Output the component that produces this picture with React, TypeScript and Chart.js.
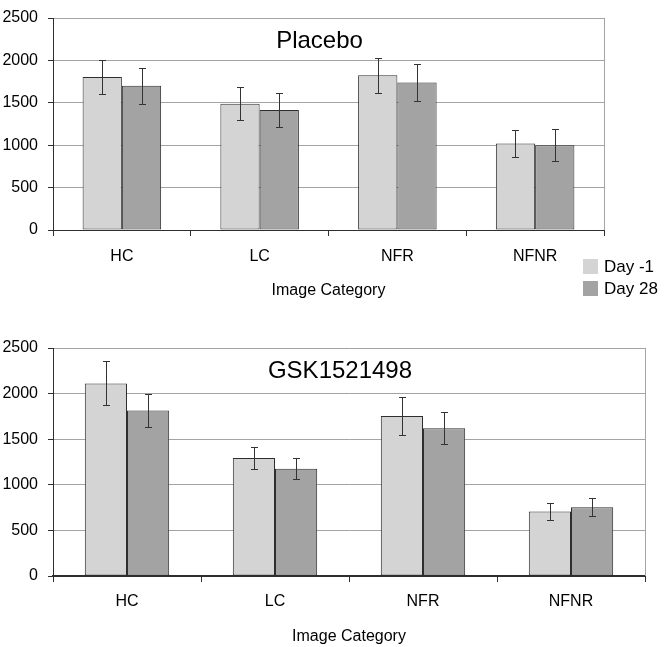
import React, { useEffect, useRef } from "react";
import { Chart, registerables } from "chart.js";

Chart.register(...registerables);

// ---------- data ----------
const categories = ["HC", "LC", "NFR", "NFNR"];
const seriesLabels = ["Day -1", "Day 28"];
const yTickValues = [0, 500, 1000, 1500, 2000, 2500];

const placeboDayMinus1 = [1805, 1490, 1825, 1020];
const placeboDayMinus1Err = [205, 198, 208, 162];
const placeboDay28 = [1700, 1415, 1740, 1000];
const placeboDay28Err = [214, 203, 214, 186];

const gskDayMinus1 = [2112, 1295, 1755, 707];
const gskDayMinus1Err = [241, 121, 204, 98];
const gskDay28 = [1815, 1176, 1620, 753];
const gskDay28Err = [186, 117, 178, 97];

const xAxisTitle = "Image Category";

// ---------- styles ----------
const REGULAR = '"Liberation Sans", Arial, sans-serif';
const LIGHT = "#d4d4d4";
const DARK = "#a3a3a3";
const EDGE = "#2e2e2e";
const GRID = "#a4a4a4";

type PanelProps = {
  title: string;
  values: number[][];
  errors: number[][];
  width: number;
  height: number;
  padTop: number;
  padRight: number;
  axisWidth: number;
  xAxisHeight: number;
  tickPad: number;
  titlePad: number;
  axisLineWidth: number;
  showLegend: boolean;
};

function Panel(p: PanelProps) {
  const ref = useRef<HTMLCanvasElement | null>(null);

  useEffect(() => {
    if (!ref.current) return;
    const overlay = {
      id: "overlay",
      beforeDatasetsDraw(chart: any) {
        const { ctx, chartArea } = chart;
        ctx.save();
        ctx.strokeStyle = GRID;
        ctx.lineWidth = 1;
        ctx.beginPath();
        const xr = Math.round(chartArea.right) + 0.5;
        ctx.moveTo(xr, chartArea.top);
        ctx.lineTo(xr, chartArea.bottom);
        ctx.stroke();
        ctx.restore();
      },
      afterDatasetsDraw(chart: any) {
        const { ctx } = chart;
        const ys = chart.scales.y;
        ctx.save();
        ctx.strokeStyle = "#333";
        ctx.lineWidth = 1;
        chart.data.datasets.forEach((ds: any, d: number) => {
          const meta = chart.getDatasetMeta(d);
          meta.data.forEach((el: any, i: number) => {
            const v = ds.data[i];
            const e = p.errors[d][i];
            const x = Math.round(el.x) + 0.5;
            const yt = Math.round(ys.getPixelForValue(v + e)) + 0.5;
            const yb = Math.round(ys.getPixelForValue(v - e)) + 0.5;
            ctx.beginPath();
            ctx.moveTo(x, yt);
            ctx.lineTo(x, yb);
            ctx.moveTo(x - 3.5, yt);
            ctx.lineTo(x + 3.5, yt);
            ctx.moveTo(x - 3.5, yb);
            ctx.lineTo(x + 3.5, yb);
            ctx.stroke();
          });
        });
        ctx.restore();
      },
      afterDraw(chart: any) {
        const { ctx, chartArea } = chart;
        ctx.save();
        ctx.fillStyle = "#000";
        ctx.font = `24px ${REGULAR}`;
        ctx.textAlign = "center";
        ctx.textBaseline = "middle";
        ctx.fillText(p.title, (chartArea.left + chartArea.right) / 2 - 9, chartArea.top + 23);
        if (p.showLegend) {
          ctx.font = `17px ${REGULAR}`;
          ctx.textAlign = "left";
          chart.data.datasets.forEach((ds: any, d: number) => {
            const bx = chartArea.right - 21;
            const by = chartArea.bottom + 29 + d * 22;
            ctx.fillStyle = ds.backgroundColor;
            ctx.fillRect(bx, by, 15, 15);
            ctx.fillStyle = "#000";
            ctx.fillText(ds.label, bx + 21, by + 8);
          });
        }
        ctx.restore();
      },
    };

    const tickFont = { family: REGULAR, size: 16, lineHeight: 1.2 };
    const chart = new Chart(ref.current, {
      type: "bar",
      data: {
        labels: categories,
        datasets: seriesLabels.map((label, d) => ({
          label,
          data: p.values[d],
          backgroundColor: d === 0 ? LIGHT : DARK,
          borderColor: EDGE,
          borderWidth: 1,
          borderSkipped: false,
          barPercentage: 1,
          categoryPercentage: 0.57,
        })),
      },
      options: {
        animation: false,
        responsive: false,
        layout: { padding: { top: p.padTop, right: p.padRight, left: 0, bottom: 0 } },
        plugins: { legend: { display: false }, title: { display: false }, tooltip: { enabled: false } },
        scales: {
          x: {
            offset: true,
            grid: { display: true, offset: true, drawOnChartArea: false, drawTicks: true, tickLength: 6, tickColor: EDGE, lineWidth: 1 },
            border: { display: true, color: EDGE, width: p.axisLineWidth },
            ticks: { color: "#000", font: tickFont, padding: p.tickPad },
            title: { display: true, text: xAxisTitle, color: "#000", font: tickFont, padding: { top: 0, bottom: p.titlePad } },
            afterFit: (s: any) => { s.height = p.xAxisHeight; },
          },
          y: {
            min: yTickValues[0],
            max: yTickValues[yTickValues.length - 1],
            afterBuildTicks: (s: any) => { s.ticks = yTickValues.map((v) => ({ value: v })); },
            grid: { color: GRID, lineWidth: 1, drawTicks: true, tickLength: 5, tickColor: EDGE },
            border: { display: true, color: EDGE, width: 1 },
            ticks: {
              color: "#000",
              font: { family: REGULAR, size: 16, lineHeight: 1 },
              padding: 10,
              callback: (v: any) => String(v),
            },
            afterFit: (s: any) => { s.width = p.axisWidth; },
          },
        },
      },
      plugins: [overlay],
    } as any);
    return () => chart.destroy();
  }, []);

  return <canvas ref={ref} width={p.width} height={p.height} style={{ display: "block" }} />;
}

export default function App() {
  return (
    <div style={{ position: "absolute", left: 0, top: 0, width: 666, height: 647, background: "#fff" }}>
      <div style={{ position: "absolute", left: 0, top: 0 }}>
        <Panel
          title="Placebo"
          values={[placeboDayMinus1, placeboDay28]}
          errors={[placeboDayMinus1Err, placeboDay28Err]}
          width={666}
          height={310}
          padTop={10}
          padRight={62}
          axisWidth={53}
          xAxisHeight={80}
          tickPad={11}
          titlePad={10}
          axisLineWidth={1}
          showLegend={true}
        />
      </div>
      <div style={{ position: "absolute", left: 0, top: 330 }}>
        <Panel
          title="GSK1521498"
          values={[gskDayMinus1, gskDay28]}
          errors={[gskDayMinus1Err, gskDay28Err]}
          width={666}
          height={317}
          padTop={11}
          padRight={21}
          axisWidth={53}
          xAxisHeight={71}
          tickPad={10}
          titlePad={1}
          axisLineWidth={2}
          showLegend={false}
        />
      </div>
    </div>
  );
}
